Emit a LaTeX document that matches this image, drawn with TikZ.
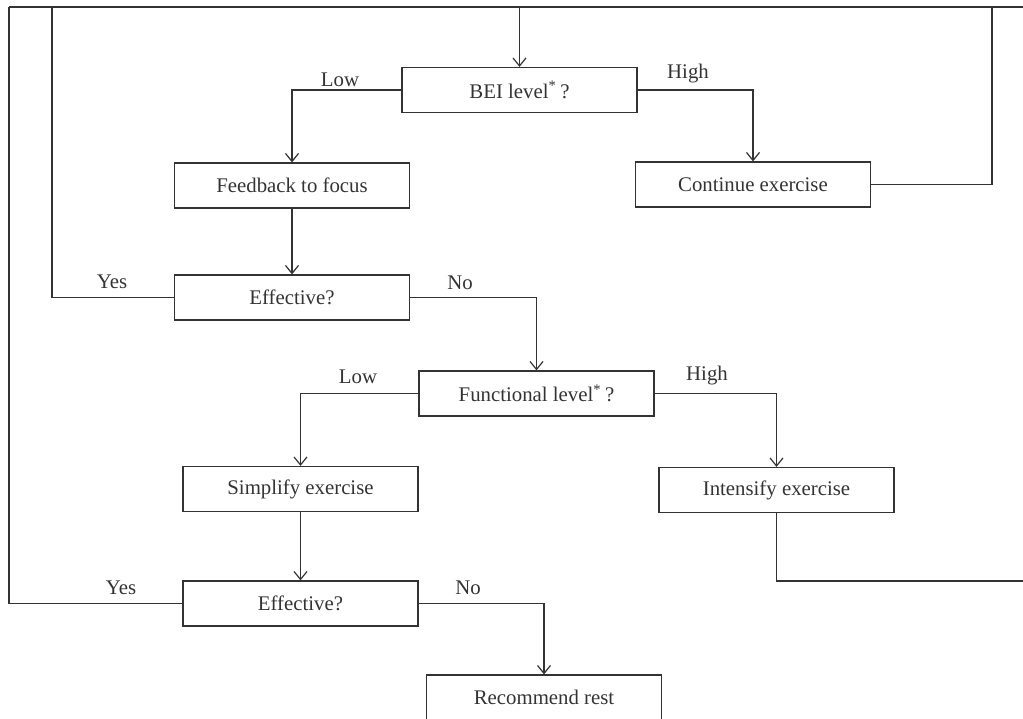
\documentclass[tikz,border=0pt]{standalone}
\usepackage{fontspec}
\setmainfont{Liberation Serif}
\usetikzlibrary{arrows.meta}
\definecolor{ink}{HTML}{333333}
\begin{document}
\begin{tikzpicture}
    [%%%%%%%%%%%%%%%%%%%%%%%%%%%%%%
        x=0.5pt,y=-0.5pt,
        box/.style={rectangle,draw=ink,line width=0.6pt,minimum width=117.5pt,minimum height=22.5pt,inner sep=0pt,text=ink,font=\fontsize{10.4}{12}\selectfont},
        lbl/.style={inner sep=0pt,text=ink,font=\fontsize{10.4}{12}\selectfont},
        link/.style={draw=ink,line width=0.6pt},
        arr/.style={link,-{Straight Barb[length=4pt,width=6.5pt]}},
    ]%%%%%%%%%%%%%%%%%%%%%%%%%%%%%%

\useasboundingbox (0,0) rectangle (1023,718);
\clip (0,0) rectangle (1023,718);

\coordinate (topL) at (9,7);
\coordinate (topR) at (1030,7);
\coordinate (inL) at (52,7);
\coordinate (inR) at (992,7);
\coordinate (exitR) at (1030,581);

\node[box] (bei) at (519.5,90){BEI level\textsuperscript{*}\,?};
\node[box] (feedback) at (292,185.5){Feedback to focus};
\node[box] (continue) at (753,184.5){Continue exercise};
\node[box] (eff1) at (292,297.5){Effective?};
\node[box] (functional) at (536.5,393.5){Functional level\textsuperscript{*}\,?};
\node[box] (simplify) at (300.5,489){Simplify exercise};
\node[box] (intensify) at (776.5,490){Intensify exercise};
\node[box] (eff2) at (300.5,603.5){Effective?};
\node[box] (rest) at (544,697.5){Recommend rest};

\node[lbl] (low1) at (340,80){Low};
\node[lbl] (high1) at (688,74){High};
\node[lbl] (yes1) at (112,282){Yes};
\node[lbl] (no1) at (460,283){No};
\node[lbl] (low2) at (358,377){Low};
\node[lbl] (high2) at (707,376){High};
\node[lbl] (yes2) at (121,588){Yes};
\node[lbl] (no2) at (468,588){No};

\draw[link] (topL) -- (topR);
\draw[arr] (bei.north |- topL) -- (bei.north);
\draw[arr] (bei.west) -| (feedback.north);
\draw[arr] (bei.east) -| (continue.north);
\draw[link] (continue.east) -| (inR);
\draw[arr] (feedback.south) -- (eff1.north);
\draw[link] (eff1.west) -| (inL);
\draw[arr] (eff1.east) -| (functional.north);
\draw[arr] (functional.west) -| (simplify.north);
\draw[arr] (functional.east) -| (intensify.north);
\draw[link] (intensify.south) |- (exitR);
\draw[arr] (simplify.south) -- (eff2.north);
\draw[link] (eff2.west) -| (topL);
\draw[arr] (eff2.east) -| (rest.north);
\end{tikzpicture}
\end{document}
